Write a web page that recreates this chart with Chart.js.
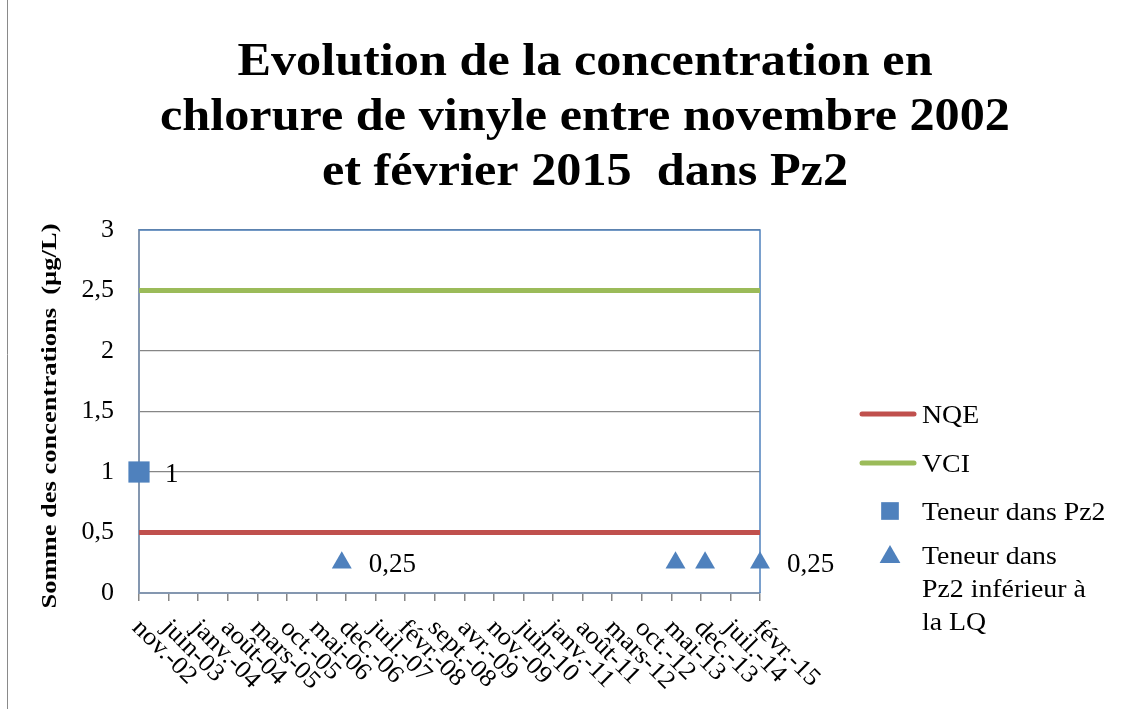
<!DOCTYPE html>
<html lang="fr">
<head>
<meta charset="utf-8">
<title>Chlorure de vinyle Pz2</title>
<script src="https://cdn.jsdelivr.net/npm/chart.js@4/dist/chart.umd.min.js"></script>
<style>
  html, body { margin: 0; padding: 0; background: #fff; }
  #wrap { width: 1127px; height: 709px; position: relative; }
</style>
</head>
<body>
<div id="wrap"><canvas id="chart" width="1127" height="709"></canvas></div>
<script>
// x axis is counted in months since nov. 2002
const tickLabels = ['nov.-02', 'juin-03', 'janv.-04', 'août-04', 'mars-05', 'oct.-05', 'mai-06',
  'dec.-06', 'juil.-07', 'févr.-08', 'sept.-08', 'avr.-09', 'nov.-09', 'juin-10', 'janv.-11',
  'août-11', 'mars-12', 'oct.-12', 'mai-13', 'dec.-13', 'juil.-14', 'févr.-15'];
const tickMonths = [0, 7, 14, 21, 28, 35, 42, 49, 56, 63, 70, 77, 84, 91, 98, 105, 112, 119, 126, 133, 140, 147];

const nqeMonths = [0, 147];
const nqeValues = [0.5, 0.5];
const vciMonths = [0, 147];
const vciValues = [2.5, 2.5];
const pz2Months = [0];
const pz2Values = [1];
const lqMonths = [48, 127, 134, 147];
const lqValues = [0.25, 0.25, 0.25, 0.25];
const lqLabelled = [true, false, false, true];

const titleLines = ['Evolution de la concentration en', 'chlorure de vinyle entre novembre 2002', 'et février 2015  dans Pz2'];
const yTitle = 'Somme des concentrations  (µg/L)';

const SERIF = '"Liberation Serif", "DejaVu Serif", serif';
const RED = '#C0504D';
const GREEN = '#9BBB59';
const BLUE = '#4F81BD';

const fmt = (v) => String(v).replace('.', ',');
const pts = (xs, ys) => xs.map((x, i) => ({ x, y: ys[i] }));

// Cambria is wider than Liberation Serif, so some texts get a horizontal stretch
function stretchText(ctx, text, x, y, sx) {
  ctx.save();
  ctx.translate(x, y);
  ctx.scale(sx, 1);
  ctx.fillText(text, 0, 0);
  ctx.restore();
}

const decorPlugin = {
  id: 'decor',
  beforeDraw(chart) {
    const { ctx } = chart;
    ctx.save();
    ctx.strokeStyle = '#8a8a8a';
    ctx.lineWidth = 1;
    ctx.beginPath();
    ctx.moveTo(7.5, 0);
    ctx.lineTo(7.5, chart.height);
    ctx.stroke();
    ctx.restore();
  },
  beforeDatasetsDraw(chart) {
    const { ctx, chartArea: a } = chart;
    ctx.save();
    ctx.strokeStyle = BLUE;
    ctx.lineWidth = 1.5;
    ctx.beginPath();
    ctx.moveTo(a.left, a.top);
    ctx.lineTo(a.right, a.top);
    ctx.lineTo(a.right, a.bottom);
    ctx.stroke();
    ctx.restore();
  },
  afterDraw(chart) {
    const { ctx } = chart;
    const xs = chart.scales.x;
    const ys = chart.scales.y;
    ctx.save();
    ctx.fillStyle = '#000';

    // title
    ctx.font = 'bold 47px ' + SERIF;
    ctx.textAlign = 'center';
    ctx.textBaseline = 'alphabetic';
    const sx = 850 / ctx.measureText(titleLines[1]).width;
    titleLines.forEach((t, i) => stretchText(ctx, t, 585, 75 + i * 55, sx));

    // y axis title
    ctx.font = 'bold 22px ' + SERIF;
    ctx.textBaseline = 'middle';
    ctx.save();
    ctx.translate(50, 416);
    ctx.rotate(-Math.PI / 2);
    stretchText(ctx, yTitle, 0, 0, 385 / ctx.measureText(yTitle).width);
    ctx.restore();

    // rotated x labels, text runs down-right from the tick
    ctx.font = '25px ' + SERIF;
    ctx.textAlign = 'left';
    ctx.textBaseline = 'middle';
    tickMonths.forEach((m, i) => {
      const px = xs.getPixelForValue(m);
      ctx.save();
      ctx.translate(px - 3, xs.top + 31);
      ctx.rotate(Math.PI / 4);
      stretchText(ctx, tickLabels[i], 0, 0, 1.06);
      ctx.restore();
    });

    // data labels
    ctx.font = '27px ' + SERIF;
    ctx.textBaseline = 'alphabetic';
    pz2Months.forEach((m, i) => {
      ctx.fillText(fmt(pz2Values[i]), xs.getPixelForValue(m) + 26, ys.getPixelForValue(pz2Values[i]) + 10);
    });
    lqMonths.forEach((m, i) => {
      if (!lqLabelled[i]) return;
      ctx.fillText(fmt(lqValues[i]), xs.getPixelForValue(m) + 27, ys.getPixelForValue(lqValues[i]) + 9);
    });

    // legend
    const lx = 862;
    const tx = 922;
    ctx.font = '26px ' + SERIF;
    chart.data.datasets.forEach((ds, i) => {
      const y = [414, 463, 511, 555][i];
      if (ds.pointStyle === false) {
        ctx.strokeStyle = ds.borderColor;
        ctx.lineWidth = 5;
        ctx.lineCap = 'round';
        ctx.beginPath();
        ctx.moveTo(lx, y);
        ctx.lineTo(lx + 52, y);
        ctx.stroke();
      } else {
        ctx.strokeStyle = BLUE;
        ctx.fillStyle = BLUE;
        Chart.helpers.drawPoint(ctx, {
          pointStyle: ds.pointStyle,
          radius: ds.pointStyle === 'rect' ? 12.5 : 12,
          borderWidth: 0,
        }, 890, y + (ds.pointStyle === 'triangle' ? 2 : 0));
      }
      ctx.fillStyle = '#000';
      ds.legendLines.forEach((t, j) => stretchText(ctx, t, tx, y + 9 + j * 33, 1.07));
    });
    ctx.restore();
  }
};

new Chart(document.getElementById('chart'), {
  type: 'scatter',
  data: {
    datasets: [
      {
        label: 'NQE', legendLines: ['NQE'], data: pts(nqeMonths, nqeValues),
        showLine: true, borderColor: RED, borderWidth: 5, pointStyle: false, pointRadius: 0
      },
      {
        label: 'VCI', legendLines: ['VCI'], data: pts(vciMonths, vciValues),
        showLine: true, borderColor: GREEN, borderWidth: 5, pointStyle: false, pointRadius: 0
      },
      {
        label: 'Teneur dans Pz2', legendLines: ['Teneur dans Pz2'], data: pts(pz2Months, pz2Values),
        pointStyle: 'rect', pointRadius: 15, backgroundColor: BLUE, borderColor: BLUE, borderWidth: 0, clip: false
      },
      {
        label: 'Teneur dans Pz2 inférieur à la LQ', legendLines: ['Teneur dans', 'Pz2 inférieur à', 'la LQ'],
        data: pts(lqMonths, lqValues),
        pointStyle: 'triangle', pointRadius: 11.5, backgroundColor: BLUE, borderColor: BLUE, borderWidth: 0, clip: false
      }
    ]
  },
  options: {
    responsive: false,
    animation: false,
    layout: { padding: { top: 230, right: 367, bottom: 0, left: 10 } },
    plugins: {
      legend: { display: false },
      title: { display: false },
      tooltip: { enabled: false }
    },
    scales: {
      x: {
        type: 'linear',
        min: 0,
        max: 147,
        afterBuildTicks: (scale) => { scale.ticks = tickMonths.map((v) => ({ value: v })); },
        afterFit: (scale) => { scale.height = 116; },
        ticks: { display: false },
        grid: { drawOnChartArea: false, drawTicks: true, tickLength: 8, color: '#868686', lineWidth: 1.5 },
        border: { color: '#8497B0', width: 2 }
      },
      y: {
        min: 0,
        max: 3,
        ticks: {
          stepSize: 0.5,
          padding: 25,
          color: '#000',
          font: { family: SERIF, size: 26 },
          callback: (v) => fmt(v)
        },
        afterFit: (scale) => { scale.width = 129; },
        grid: { color: '#868686', lineWidth: 1.2, drawTicks: false },
        border: { color: '#8497B0', width: 2 },
        title: { display: false }
      }
    }
  },
  plugins: [decorPlugin]
});
</script>
</body>
</html>
